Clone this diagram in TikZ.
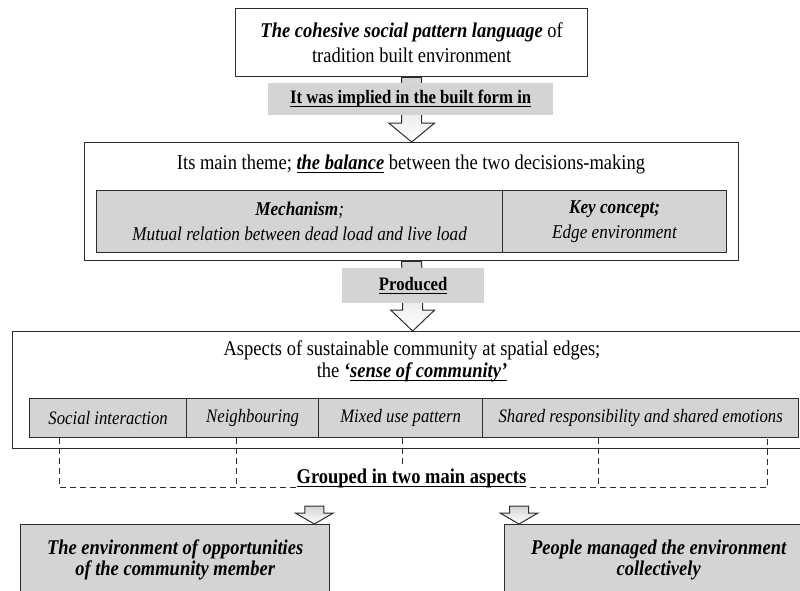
\documentclass[tikz,border=0pt]{standalone}
\usepackage{fontspec}
\setmainfont{Liberation Serif}[FakeStretch=0.88]
\usetikzlibrary{positioning}
\newcommand{\uln}[1]{\setbox0\hbox{#1}\rlap{\rule[-3.4pt]{\wd0}{0.9pt}}\box0}
\definecolor{boxgray}{RGB}{212,212,212}
\definecolor{edgegray}{RGB}{45,45,45}
\tikzset{
  frame/.style={draw=edgegray, line width=1.3pt, fill=white, inner sep=0pt, anchor=north west, align=center},
  cell/.style={frame, fill=boxgray},
  tag/.style={fill=boxgray, inner sep=0pt, anchor=north west, font=\fontsize{19}{23}\selectfont\bfseries},
  fatarrow/.style={draw=edgegray, line width=1pt, top color=boxgray, bottom color=white},
  group/.style={draw=edgegray, line width=1pt, dash pattern=on 6pt off 4pt}
}
\begin{document}
\begin{tikzpicture}[x=1pt, y=-1pt, font=\fontsize{21}{25}\selectfont]
\useasboundingbox (0,0) rectangle (800,590);
\clip (0,0) rectangle (800,590);
\node[frame, minimum width=352pt, minimum height=68pt] (pattern) at (235,8)
  {\textbf{\textit{The cohesive social pattern language}} of\\tradition built environment};
\node[frame, minimum width=654pt, minimum height=118pt] (theme) at (84,142) {};
\node[anchor=base] (themetext) at (411,169)
  {Its main theme; \textbf{\textit{\uln{the balance}}} between the two decisions-making};
\node[cell, minimum width=406pt, minimum height=62pt, font=\fontsize{19.5}{25}\selectfont] (mechanism) at (96,190)
  {\textbf{\textit{Mechanism}}\textit{;}\\\textit{Mutual relation between dead load and live load}};
\node[cell, minimum width=224pt, minimum height=62pt, font=\fontsize{19.5}{25}\selectfont] (keyconcept) at (502,190)
  {\textbf{\textit{Key concept;}}\\\textit{Edge environment}};
\node[frame, minimum width=800pt, minimum height=117pt] (aspects) at (12,331) {};
\node[align=center, font=\fontsize{21}{22}\selectfont] (aspectstext) at (412,361)
  {Aspects of sustainable community at spatial edges;\\the \textbf{\textit{`\uln{sense of community'}}}};
\begin{scope}[every node/.style={cell, minimum height=39pt, font=\fontsize{19}{23}\selectfont\itshape}]
\node[minimum width=157pt] (social) at (29,398) {Social interaction};
\node[minimum width=132pt] (neighbour) at (186,398) {Neighbouring};
\node[minimum width=164pt] (mixed) at (318,398) {Mixed use pattern};
\node[minimum width=316pt] (shared) at (482,398) {Shared responsibility and shared emotions};
\end{scope}
\node[cell, minimum width=309pt, minimum height=70pt, font=\fontsize{21}{21}\selectfont\bfseries\itshape] (opportunity) at (20,524)
  {The environment of opportunities\\of the community member};
\node[cell, minimum width=308pt, minimum height=70pt, font=\fontsize{21}{21}\selectfont\bfseries\itshape] (collective) at (504,524)
  {People managed the environment\\collectively};
\draw[fatarrow] ([xshift=-10pt]pattern.south) -- ([xshift=-10pt,yshift=19pt]theme.north) -- ([xshift=-23pt,yshift=19pt]theme.north) -- (theme.north)
  -- ([xshift=23pt,yshift=19pt]theme.north) -- ([xshift=10pt,yshift=19pt]theme.north) -- ([xshift=10pt]pattern.south) -- cycle;
\draw[fatarrow] ([xshift=-10pt]theme.south) -- ([xshift=-10pt,yshift=21pt]aspects.north) -- ([xshift=-22pt,yshift=21pt]aspects.north) -- (aspects.north)
  -- ([xshift=22pt,yshift=21pt]aspects.north) -- ([xshift=10pt,yshift=21pt]aspects.north) -- ([xshift=10pt]theme.south) -- cycle;
\node[tag, minimum width=285pt, minimum height=32pt] (implied) at (268,83) {\uln{It was implied in the built form in}};
\node[tag, minimum width=142pt, minimum height=35pt] (produced) at (342,268) {\uln{Produced}};
\draw[group] ([xshift=30pt]social.south west) -- ++(0,49) -| ([xshift=-32pt]shared.south east);
\draw[group] ([xshift=50pt]neighbour.south west) -- ++(0,49);
\draw[group] ([xshift=2pt]mixed.south) -- ++(0,49);
\draw[group] ([xshift=116pt]shared.south west) -- ++(0,49);
\node[fill=white, inner sep=1pt, anchor=base, font=\fontsize{21}{25}\selectfont\bfseries] (grouped) at (411.5,483)
  {\uln{Grouped in two main aspects}};
\path ([xshift=-16pt]opportunity.north east) coordinate (lefttip) ++(0,-18) coordinate (leftfrom);
\path ([xshift=15pt]collective.north west) coordinate (righttip) ++(0,-18) coordinate (rightfrom);
\draw[fatarrow] ([xshift=-9.5pt]leftfrom) -- ([xshift=-9.5pt,yshift=11pt]lefttip) -- ([xshift=-19pt,yshift=11pt]lefttip) -- (lefttip)
  -- ([xshift=19pt,yshift=11pt]lefttip) -- ([xshift=9.5pt,yshift=11pt]lefttip) -- ([xshift=9.5pt]leftfrom) -- cycle;
\draw[fatarrow] ([xshift=-9.5pt]rightfrom) -- ([xshift=-9.5pt,yshift=11pt]righttip) -- ([xshift=-19pt,yshift=11pt]righttip) -- (righttip)
  -- ([xshift=19pt,yshift=11pt]righttip) -- ([xshift=9.5pt,yshift=11pt]righttip) -- ([xshift=9.5pt]rightfrom) -- cycle;
\end{tikzpicture}
\end{document}
